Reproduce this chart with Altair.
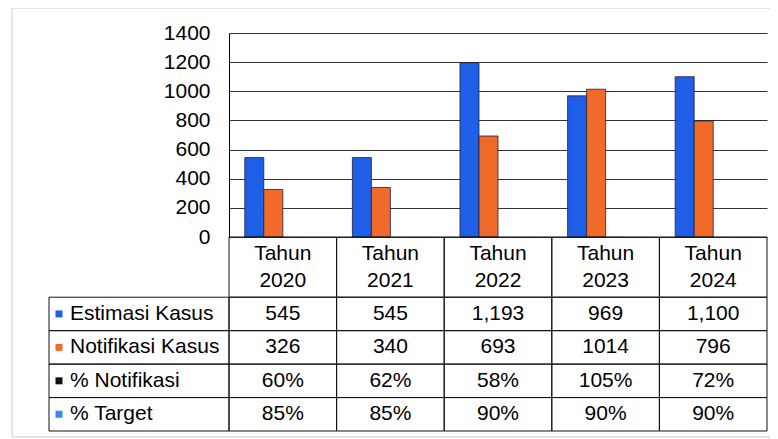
import altair as alt
import pandas as pd

# ---- data ----
years = ["2020", "2021", "2022", "2023", "2024"]
series = ["Estimasi Kasus", "Notifikasi Kasus", "% Notifikasi", "% Target"]
estimasi = [545, 545, 1193, 969, 1100]
notifikasi = [326, 340, 693, 1014, 796]
pct_notifikasi = [60, 62, 58, 105, 72]
pct_target = [85, 85, 90, 90, 90]
y_ticks = [0, 200, 400, 600, 800, 1000, 1200, 1400]
header_prefix = "Tahun"

colors = ["#1f5fe8", "#f06a2a", "#111111", "#2f8cf0"]
FONT = "Liberation Sans, Arial, sans-serif"
FS = 21

# ---- tables built from the arrays ----
bar_rows = []
for s, vals, frac in [
    (series[0], estimasi, False),
    (series[1], notifikasi, False),
    (series[2], pct_notifikasi, True),
    (series[3], pct_target, True),
]:
    for y, v in zip(years, vals):
        bar_rows.append({"year": y, "series": s, "value": v / 100 if frac else v})
bars_df = pd.DataFrame(bar_rows)

HEADER_H = 1.8
cell_rows = []
label_rows = []
for i, (s, vals) in enumerate(
    [(series[0], estimasi), (series[1], notifikasi), (series[2], pct_notifikasi), (series[3], pct_target)]
):
    y0 = HEADER_H + i
    label_rows.append({"series": s, "y0": y0, "y1": y0 + 1, "ym": y0 + 0.5})
    for y, v in zip(years, vals):
        if i == 0:
            txt = f"{v:,}"
        elif i == 1:
            txt = str(v)
        else:
            txt = f"{v}%"
        cell_rows.append({"year": y, "series": s, "text": txt, "y0": y0, "y1": y0 + 1, "ym": y0 + 0.5})
cells_df = pd.DataFrame(cell_rows)
header_df = pd.DataFrame([{"year": y, "text": f"{header_prefix}\n{y}", "y0": 0, "y1": HEADER_H,
                           "ym": HEADER_H / 2} for y in years])
labels_df = pd.DataFrame(label_rows)

W, H = 538, 398
PLOT_H = 204

x_enc = alt.X("year:N", scale=alt.Scale(domain=years, paddingInner=0, paddingOuter=0), axis=None)
tab_scale = alt.Scale(domain=[0, HEADER_H + 4], range=[PLOT_H, H])
color_enc = alt.Color("series:N", scale=alt.Scale(domain=series, range=colors), legend=None)

frame = alt.Chart(pd.DataFrame({"a": [0]})).mark_rect(
    fill=None, stroke="#c8c8c8", strokeWidth=1
).encode(x=alt.value(-217), x2=alt.value(700), y=alt.value(-25), y2=alt.value(404))

bars = alt.Chart(bars_df).mark_bar(stroke="#202040").encode(
    x=x_enc,
    xOffset=alt.XOffset("series:N", scale=alt.Scale(domain=series, paddingInner=0, paddingOuter=0.83)),
    y=alt.Y("value:Q",
            scale=alt.Scale(domain=[0, 1400], range=[PLOT_H, 0], nice=False),
            axis=alt.Axis(values=y_ticks, format="d", title=None, grid=True, gridColor="#333333",
                          gridWidth=1, ticks=False, tickSize=0, labelPadding=19, labelFontSize=FS,
                          labelFont=FONT, labelColor="#000000", domainColor="#000000",
                          domainWidth=1)),
    color=color_enc,
    strokeWidth=alt.condition(alt.FieldOneOfPredicate(field="series", oneOf=series[:2]),
                              alt.value(0.8), alt.value(0)),
)

cells = alt.Chart(pd.concat([cells_df, header_df])).mark_rect(
    fill=None, stroke="#111111", strokeWidth=1
).encode(
    x=x_enc,
    y=alt.Y("y0:Q", scale=tab_scale, axis=None),
    y2="y1:Q",
)

label_cells = alt.Chart(labels_df).mark_rect(fill=None, stroke="#111111", strokeWidth=1).encode(
    x=alt.value(-180), x2=alt.value(0),
    y=alt.Y("y0:Q", scale=tab_scale, axis=None),
    y2="y1:Q",
)

cell_text = alt.Chart(cells_df).mark_text(
    font=FONT, fontSize=FS, color="#000000", baseline="middle", align="center"
).encode(
    x=x_enc,
    y=alt.Y("ym:Q", scale=tab_scale, axis=None),
    text="text:N",
)

header_text = alt.Chart(header_df).mark_text(
    font=FONT, fontSize=FS, color="#000000", baseline="middle", align="center",
    lineBreak="\n", lineHeight=27, dy=-13
).encode(
    x=x_enc,
    y=alt.Y("ym:Q", scale=tab_scale, axis=None),
    text="text:N",
)

label_text = alt.Chart(labels_df).mark_text(
    font=FONT, fontSize=FS, color="#000000", baseline="middle", align="left"
).encode(
    x=alt.value(-159),
    y=alt.Y("ym:Q", scale=tab_scale, axis=None),
    text="series:N",
)

squares = alt.Chart(labels_df).mark_square(size=49, opacity=1).encode(
    x=alt.value(-170),
    y=alt.Y("ym:Q", scale=tab_scale, axis=None),
    color=color_enc,
)

chart = alt.layer(
    frame, bars, cells, label_cells, cell_text, header_text, label_text, squares
).resolve_scale(y="independent").properties(
    width=W, height=H,
    autosize=alt.AutoSizeParams(type="none"),
    padding={"left": 221, "top": 25, "right": 3, "bottom": 8},
    background="#ffffff",
).configure_view(strokeWidth=0)

chart.save("out.html", embed_options={"renderer": "svg", "actions": False})
